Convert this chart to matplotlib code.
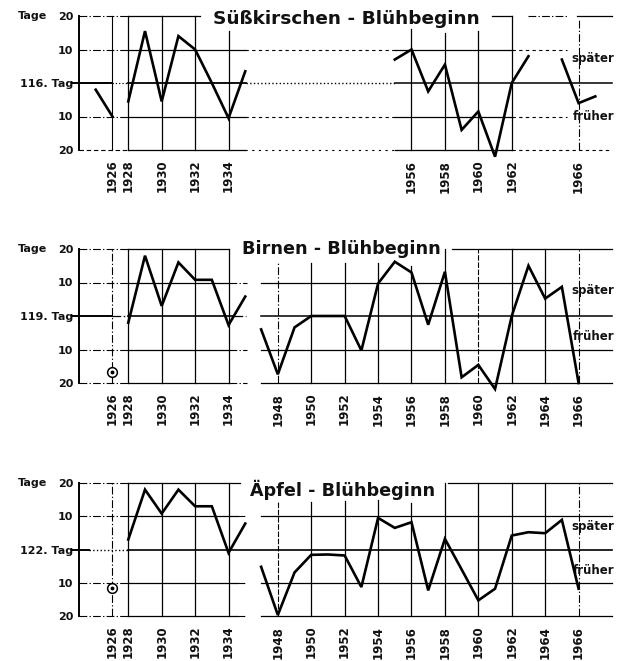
import numpy as np
import matplotlib
matplotlib.use("Agg")
import matplotlib.pyplot as plt

# Abweichung vom mittleren Blühbeginn in Tagen (+ = später, - = früher)
KIRSCHE_JAHRE_A = [1925, 1926]
KIRSCHE_WERTE_A = [-2, -10]
KIRSCHE_JAHRE_B = [1928, 1929, 1930, 1931, 1932, 1933, 1934, 1935]
KIRSCHE_WERTE_B = [-5.5, 15.5, -5.5, 14, 10, 0, -10.5, 3.5]
KIRSCHE_JAHRE_C = [1955, 1956, 1957, 1958, 1959, 1960, 1961, 1962, 1963]
KIRSCHE_WERTE_C = [7, 10, -2.5, 5.5, -14, -8.5, -22, 0, 8]
KIRSCHE_JAHRE_D = [1965, 1966, 1967]
KIRSCHE_WERTE_D = [7, -6, -4]

BIRNE_KREIS_JAHR = 1926
BIRNE_KREIS_WERT = -16.7
BIRNE_JAHRE_B = [1928, 1929, 1930, 1931, 1932, 1933, 1934, 1935]
BIRNE_WERTE_B = [-2, 18, 3, 16, 10.8, 10.8, -2.7, 5.8]
BIRNE_JAHRE_C = list(range(1947, 1967))
BIRNE_WERTE_C = [-4, -17.4, -3.4, 0, 0, 0, -10.3, 9.7, 16.2, 13,
                 -2.6, 13.2, -18.3, -14.6, -21.8, 0, 15, 5.2, 8.7, -20]

APFEL_KREIS_JAHR = 1926
APFEL_KREIS_WERT = -11.7
APFEL_JAHRE_B = [1928, 1929, 1930, 1931, 1932, 1933, 1934, 1935]
APFEL_WERTE_B = [3, 18, 10.8, 18, 13, 13, -1, 7.8]
APFEL_JAHRE_C = list(range(1947, 1967))
APFEL_WERTE_C = [-5.2, -19.7, -6.9, -1.6, -1.5, -1.8, -11.3, 9.5, 6.5, 8.2,
                 -12.3, 3.2, -6, -15.3, -11.8, 4.2, 5.2, 4.9, 8.9, -11.8]

JAHRE_OBEN = [1926, 1928, 1930, 1932, 1934, 1956, 1958, 1960, 1962, 1966]
JAHRE_UNTEN = [1926, 1928, 1930, 1932, 1934, 1948, 1950, 1952, 1954,
               1956, 1958, 1960, 1962, 1964, 1966]
Y_TICKS = [20, 10, 0, -10, -20]

# gestauchte Zeitachse (Lücken 1926-28 und 1935-47)
KNOT_JAHR = [1920, 1924, 1926, 1928, 1935, 1947, 1968, 1972]
KNOT_POS = [-4, 0, 2, 2.95, 9.95, 10.9, 31.9, 35.9]


def hin(x):
    return np.interp(x, KNOT_JAHR, KNOT_POS)


def rueck(p):
    return np.interp(p, KNOT_POS, KNOT_JAHR)


DD = (0, (7, 2, 1.2, 2))   # Strich-Punkt
SCHRIFT = dict(fontweight="bold", color="#111111")

plt.rcParams["font.family"] = ["DejaVu Sans"]

fig = plt.figure(figsize=(6.23, 6.61), dpi=100)
W, H = 623, 661


def achse(top, bottom):
    ax = fig.add_axes([79 / W, 1 - bottom / H, (612 - 79) / W, (bottom - top) / H])
    ax.set_xscale("function", functions=(hin, rueck))
    ax.set_xlim(1924, 1968)
    ax.set_ylim(-20, 20)
    for s in ax.spines.values():
        s.set_visible(False)
    ax.tick_params(length=0)
    return ax


def hlinien(ax, segmente):
    for y, x0, x1, stil, lw in segmente:
        ax.plot([x0, x1], [y, y], color="k", ls=stil, lw=lw, clip_on=False, zorder=2)


def vlinien(ax, liste):
    for x, oben, stil, lw in liste:
        ax.plot([x, x], [-20, oben], color="k", ls=stil, lw=lw, clip_on=False, zorder=2)


def beschriften(ax, mittel, jahre, titel, titel_x, titel_y, titel_gr, spaet_y, frueh_y):
    ax.set_yticks(Y_TICKS)
    ax.set_yticklabels(["20", "10", f"{mittel}. Tag", "10", "20"],
                       fontsize=8, **SCHRIFT)
    ax.tick_params(axis="y", pad=4)
    ax.set_xticks(jahre)
    ax.set_xticklabels([str(j) for j in jahre], rotation=90,
                       fontsize=8.5, **SCHRIFT)
    ax.tick_params(axis="x", pad=7)
    tr = ax.get_yaxis_transform()
    ax.text(-0.114, 20, "Tage", transform=tr, ha="left", va="center",
            fontsize=8, **SCHRIFT)
    ax.text(titel_x, titel_y, titel, transform=tr, ha="center", va="center",
            fontsize=titel_gr, **SCHRIFT)
    ax.text(0.923, spaet_y, "später", transform=tr, ha="left", va="center",
            fontsize=8.5, **SCHRIFT)
    ax.text(0.926, frueh_y, "früher", transform=tr, ha="left", va="center",
            fontsize=8.5, **SCHRIFT)


def kurve(ax, jahre, werte):
    ax.plot(jahre, werte, color="k", lw=1.9, solid_joinstyle="miter",
            clip_on=False, zorder=4)


def kreis(ax, jahr, wert):
    ax.plot([jahr], [wert], marker="o", ms=7, mfc="white", mec="k", mew=1.1,
            zorder=5, clip_on=False)
    ax.plot([jahr], [wert], marker="o", ms=1.8, color="k", zorder=6)


# ---- Süßkirschen ----
ax1 = achse(16, 150)
hlinien(ax1, [
    (20, 1924, 1928, DD, 0.8), (20, 1928, 1932.3, "-", 0.9),
    (20, 1960.8, 1962, "-", 0.9), (20, 1963, 1965.3, DD, 0.8), (20, 1965.9, 1968, "-", 0.9),
    (10, 1924, 1928, DD, 0.8), (10, 1928, 1935, "-", 0.9), (10, 1935, 1955, (0, (3, 3)), 0.8),
    (10, 1955, 1962, "-", 0.9), (10, 1962, 1965.3, (0, (3, 3)), 0.8),
    (0, 1923.6, 1926, "-", 1.4), (0, 1926, 1928, ":", 0.9), (0, 1928, 1935.3, "-", 1.3),
    (0, 1935.3, 1955, ":", 1.0), (0, 1955, 1968, "-", 1.1),
    (-10, 1924, 1928, DD, 0.8), (-10, 1928, 1935, "-", 0.9), (-10, 1935, 1955, (0, (3, 3)), 0.8),
    (-10, 1955, 1962, "-", 0.9), (-10, 1962, 1965.3, (0, (3, 3)), 0.8),
    (-20, 1924, 1928, (0, (4, 2.5)), 0.8), (-20, 1928, 1935, "-", 0.9),
    (-20, 1935, 1955, (0, (2, 4)), 0.8), (-20, 1955, 1962, "-", 0.9),
    (-20, 1962, 1968, (0, (3, 3)), 0.8),
])
vlinien(ax1, [
    (1924, 20, "-", 1.4), (1926, 20, "-", 0.8), (1928, 20, "-", 0.9),
    (1930, 20, "-", 0.9), (1932, 20, "-", 0.9), (1934, 15.5, "-", 0.9),
    (1956, 16, "-", 0.9), (1958, 15, "-", 0.9), (1960, 15.5, "-", 0.9),
    (1962, 20, "-", 0.9), (1966, 19.5, DD, 0.8),
])
for j, w in [(KIRSCHE_JAHRE_A, KIRSCHE_WERTE_A), (KIRSCHE_JAHRE_B, KIRSCHE_WERTE_B),
             (KIRSCHE_JAHRE_C, KIRSCHE_WERTE_C), (KIRSCHE_JAHRE_D, KIRSCHE_WERTE_D)]:
    kurve(ax1, j, w)
beschriften(ax1, 116, JAHRE_OBEN, "Süßkirschen - Blühbeginn", 0.501, 19.2, 13.3, 7.2, -10)

# ---- Birnen ----
ax2 = achse(249, 383)
hlinien(ax2, [
    (20, 1924, 1928, DD, 0.8), (20, 1928, 1934, "-", 0.9), (20, 1958.4, 1968, "-", 0.9),
    (10, 1924, 1928, DD, 0.8), (10, 1928, 1934, "-", 0.9), (10, 1934, 1936, DD, 0.8),
    (10, 1947, 1964.2, "-", 0.9),
    (0, 1923.6, 1926, "-", 1.4), (0, 1926, 1928, DD, 0.9), (0, 1928, 1934.3, "-", 1.2),
    (0, 1934.3, 1935.8, DD, 0.9), (0, 1946.8, 1968, "-", 1.1),
    (-10, 1924, 1928, DD, 0.8), (-10, 1928, 1934, "-", 0.9), (-10, 1934, 1936, DD, 0.8),
    (-10, 1947, 1968, "-", 0.9),
    (-20, 1924, 1928, DD, 0.8), (-20, 1928, 1934, "-", 0.9), (-20, 1934, 1936, DD, 0.8),
    (-20, 1947, 1968, "-", 0.9),
])
vlinien(ax2, [
    (1924, 20, "-", 1.4), (1926, 20, DD, 0.8), (1928, 20, "-", 0.9),
    (1930, 20, "-", 0.9), (1932, 20, "-", 0.9), (1934, 20, "-", 0.9),
    (1948, 15.8, DD, 0.8), (1950, 15.8, "-", 0.9), (1952, 15.8, "-", 0.9),
    (1954, 15.8, "-", 0.9), (1956, 15, "-", 0.9), (1958, 20, "-", 0.9),
    (1960, 20, (0, (5, 1.5)), 0.8), (1962, 20, "-", 0.9), (1964, 20, "-", 0.9),
    (1966, 20, DD, 0.8),
])
kreis(ax2, BIRNE_KREIS_JAHR, BIRNE_KREIS_WERT)
kurve(ax2, BIRNE_JAHRE_B, BIRNE_WERTE_B)
kurve(ax2, BIRNE_JAHRE_C, BIRNE_WERTE_C)
beschriften(ax2, 119, JAHRE_UNTEN, "Birnen - Blühbeginn", 0.493, 20, 12.7, 7.5, -6)

# ---- Äpfel ----
ax3 = achse(483, 616)
hlinien(ax3, [
    (20, 1924, 1928, DD, 0.8), (20, 1928, 1934.7, "-", 0.9), (20, 1958.2, 1968, "-", 0.9),
    (10, 1924, 1928, DD, 0.8), (10, 1928, 1934.5, "-", 0.9), (10, 1934.5, 1936, DD, 0.8),
    (10, 1947, 1968, "-", 0.9),
    (0, 1923.6, 1924.6, "-", 1.4), (0, 1924.6, 1928, ":", 1.0), (0, 1928, 1968, "-", 1.2),
    (-10, 1924, 1928, DD, 0.8), (-10, 1928, 1934.5, "-", 0.9), (-10, 1934.5, 1936, DD, 0.8),
    (-10, 1947, 1968, "-", 0.9),
    (-20, 1924, 1928, DD, 0.8), (-20, 1928, 1934.5, "-", 0.9), (-20, 1934.5, 1936, DD, 0.8),
    (-20, 1947, 1968, "-", 0.9),
])
vlinien(ax3, [
    (1924, 20, "-", 1.4), (1926, 20, DD, 0.8), (1928, 20, "-", 0.9),
    (1930, 20, "-", 0.9), (1932, 20, "-", 0.9), (1934, 20, "-", 0.9),
    (1948, 14.3, (0, (5, 1.5)), 0.8), (1950, 14.3, "-", 0.9), (1952, 14.7, "-", 0.9),
    (1954, 15, "-", 0.9), (1956, 14, "-", 0.9), (1958, 20, "-", 0.9),
    (1960, 20, "-", 0.9), (1962, 20, "-", 0.9), (1964, 20, "-", 0.9),
    (1966, 20, DD, 0.8),
])
kreis(ax3, APFEL_KREIS_JAHR, APFEL_KREIS_WERT)
kurve(ax3, APFEL_JAHRE_B, APFEL_WERTE_B)
kurve(ax3, APFEL_JAHRE_C, APFEL_WERTE_C)
beschriften(ax3, 122, JAHRE_UNTEN, "Äpfel - Blühbeginn", 0.495, 18, 12.7, 7, -6.2)

fig.savefig("out.png", dpi=100)
